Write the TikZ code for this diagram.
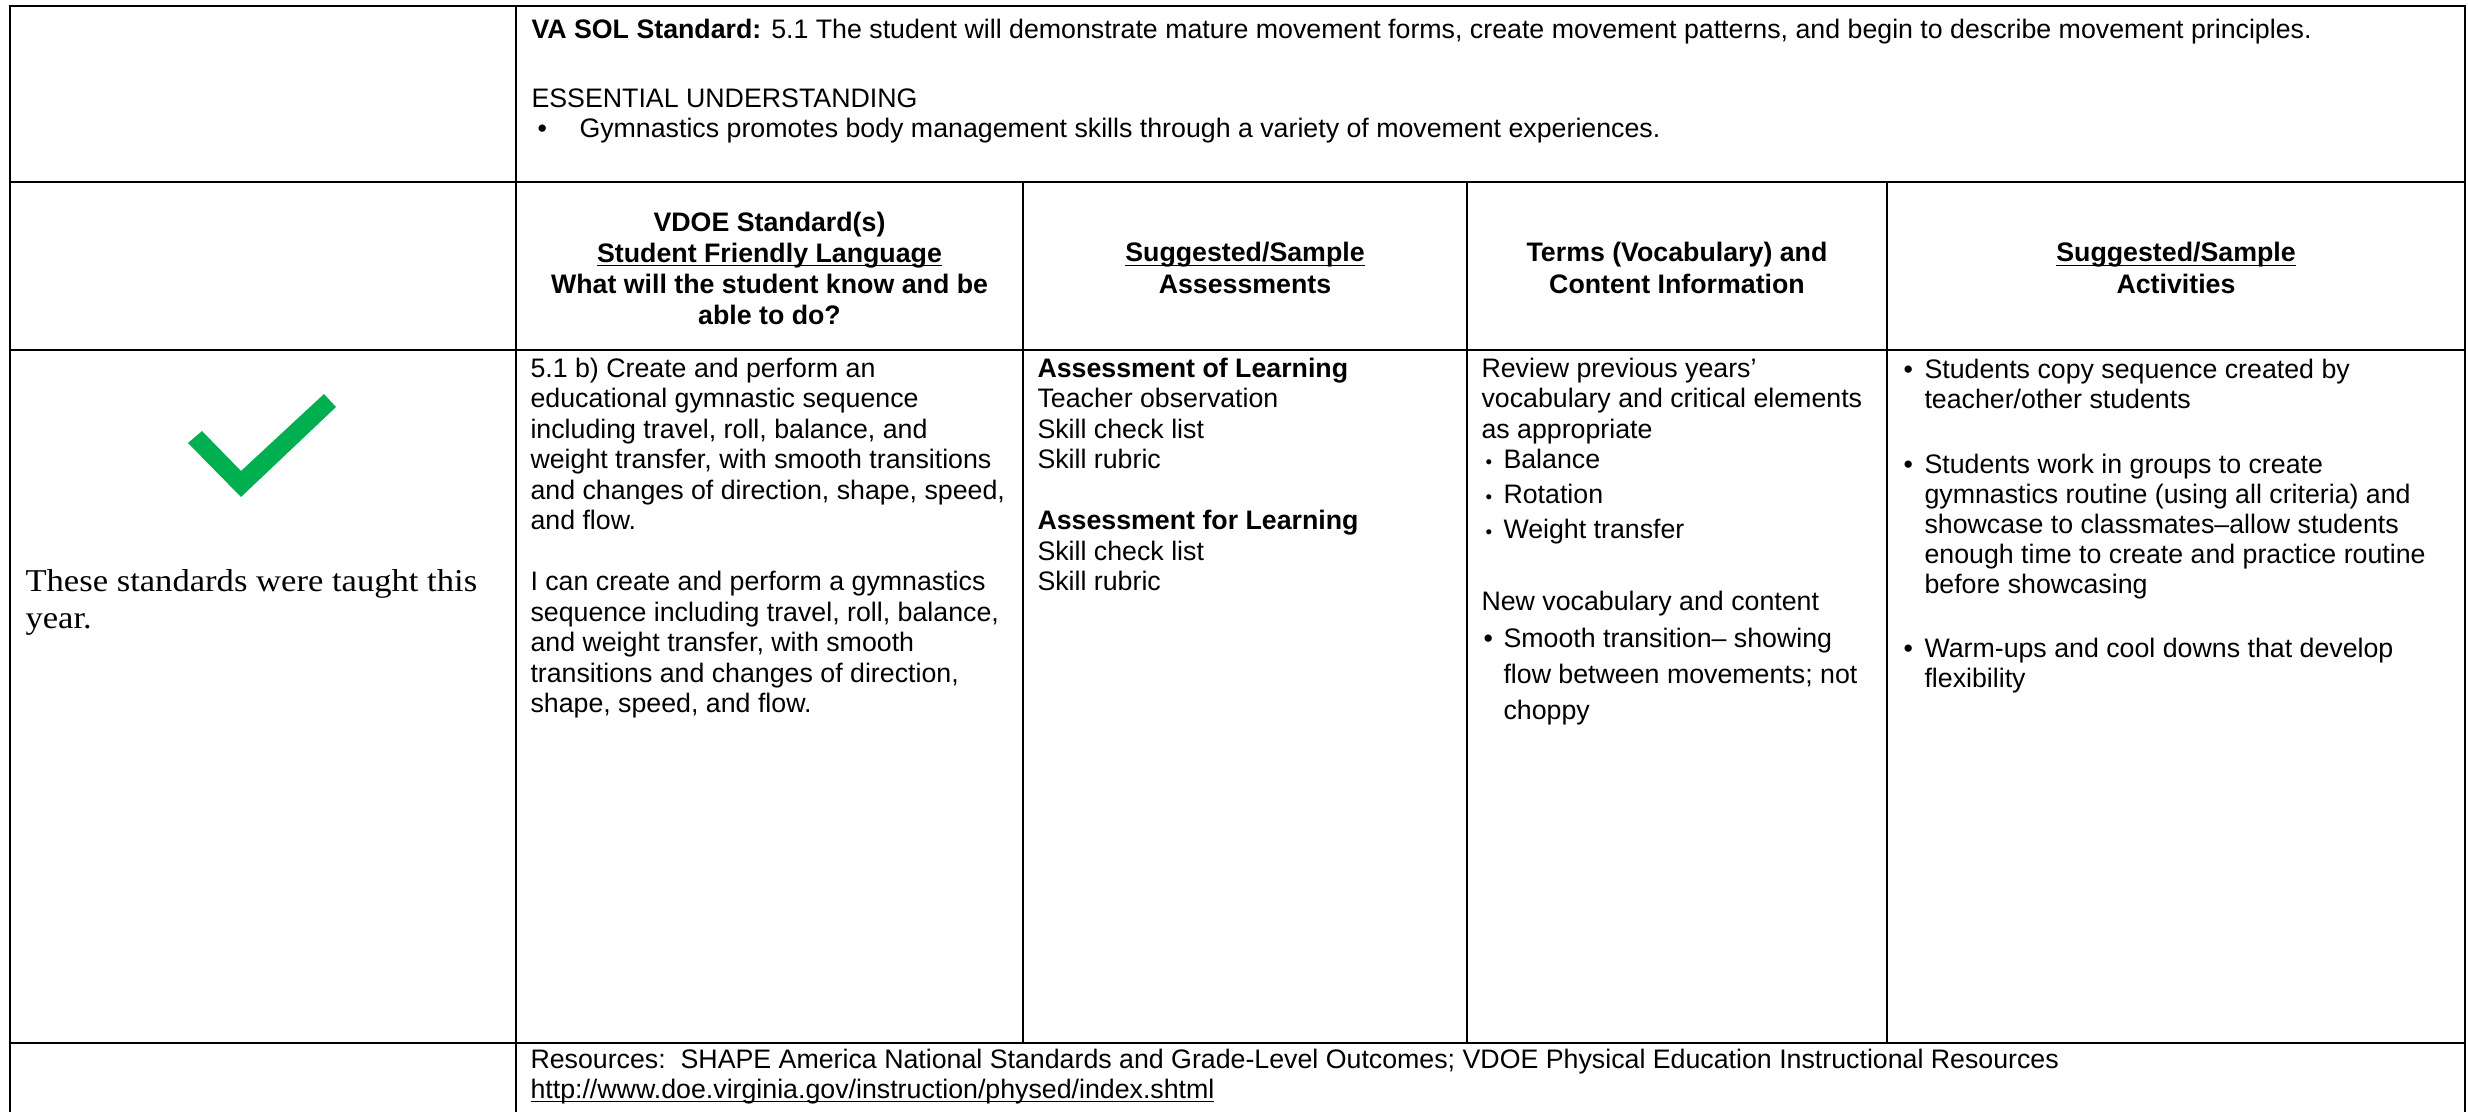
\documentclass[tikz,border=0pt]{standalone}
\usepackage{fontspec}
\setmainfont{Liberation Sans}
\newfontfamily\leftserif[FakeStretch=1.09]{Liberation Serif}
\definecolor{checkgreen}{RGB}{0,176,80}
\newcommand\lft[1]{\begin{tabular}[t]{@{}l@{}}#1\end{tabular}}
\newcommand\ctr[1]{\begin{tabular}[t]{@{}c@{}}#1\end{tabular}}
\newcommand\wul[1]{\underline{\smash{#1}}}
\begin{document}
\begin{tikzpicture}[x=0.4pt,y=-0.4pt,
    cell/.style={anchor=base west,inner sep=0pt,font=\fontsize{10.7pt}{12.2pt}\selectfont},
    head/.style={anchor=base,inner sep=0pt,font=\fontsize{10.7pt}{12.4pt}\selectfont\bfseries},
    list/.style={cell,font=\fontsize{10.7pt}{12pt}\selectfont},
    outer/.style={line width=0.8pt},
    inner/.style={line width=0.5pt}]
    \path[use as bounding box,fill=white] (0,0) rectangle (2468,1112);

    % grid
    \draw[outer] (10,1112)--(10,6)--(2465,6)--(2465,1112);
    \draw[outer] (10,182)--(2465,182);
    \draw[outer] (10,350)--(2465,350);
    \draw[outer] (10,1043)--(2465,1043);
    \draw[inner] (516,6)--(516,1112);
    \draw[inner] (1023,182)--(1023,1043);
    \draw[inner] (1467,182)--(1467,1043);
    \draw[inner] (1887,182)--(1887,1043);

    % row 1
    \node[cell] (SOL) at (531,39) {\textbf{VA SOL Standard:} 5.1 The student will demonstrate mature movement forms, create movement patterns, and begin to describe movement principles.};
    \node[cell] (EU) at (531,108) {ESSENTIAL UNDERSTANDING};
    \node[cell] (EUb) at (537,138) {•};
    \node[cell] (EUt) at (579,138) {Gymnastics promotes body management skills through a variety of movement experiences.};

    % row 2
    \node[head] (HA) at (769.5,231) {\ctr{VDOE Standard(s)\\ \wul{Student Friendly Language}\\ What will the student know and be\\ able to do?}};
    \node[head] (HB) at (1245,262) {\ctr{\wul{Suggested/Sample}\\ Assessments}};
    \node[head] (HC) at (1677,262) {\ctr{Terms (Vocabulary) and\\ Content Information}};
    \node[head] (HD) at (2176,262) {\ctr{\wul{Suggested/Sample}\\ Activities}};

    % row 3
    \fill[checkgreen] (188,443)--(202,431)--(241,471)--(324,394)--(336,407)--(241,497)--cycle;
    \node[anchor=base west,inner sep=0pt,font=\leftserif\fontsize{12.7pt}{14.8pt}\selectfont] (TAUGHT) at (25,591) {\lft{These standards were taught this\\ year.}};

    \node[cell] (CA) at (530,377) {\lft{5.1 b) Create and perform an\\ educational gymnastic sequence\\ including travel, roll, balance, and\\ weight transfer, with smooth transitions\\ and changes of direction, shape, speed,\\ and flow.}};
    \node[cell] (CB) at (530,590.5) {\lft{I can create and perform a gymnastics\\ sequence including travel, roll, balance,\\ and weight transfer, with smooth\\ transitions and changes of direction,\\ shape, speed, and flow.}};

    \node[cell] (AA) at (1037,377) {\lft{\textbf{Assessment of Learning}\\ Teacher observation\\ Skill check list\\ Skill rubric}};
    \node[cell] (AB) at (1037,529.5) {\lft{\textbf{Assessment for Learning}\\ Skill check list\\ Skill rubric}};

    \node[cell] (TA) at (1481,377) {\lft{Review previous years’\\ vocabulary and critical elements\\ as appropriate}};
    \node[cell,font=\fontsize{7.5pt}{7.5pt}\selectfont] (TBb) at (1485,468) {•};
    \node[cell] (TB) at (1503,468) {Balance};
    \node[cell,font=\fontsize{7.5pt}{7.5pt}\selectfont] (TCb) at (1485,503) {•};
    \node[cell] (TC) at (1503,503) {Rotation};
    \node[cell,font=\fontsize{7.5pt}{7.5pt}\selectfont] (TDb) at (1485,538) {•};
    \node[cell] (TD) at (1503,538) {Weight transfer};
    \node[cell] (TE) at (1481,610) {New vocabulary and content};
    \node[cell] (TFb) at (1483,647) {•};
    \node[cell,font=\fontsize{10.7pt}{14.4pt}\selectfont] (TF) at (1503,647) {\lft{Smooth transition– showing\\ flow between movements; not\\ choppy}};

    \node[list] (SAb) at (1903,378) {•};
    \node[list] (SA) at (1924,378) {\lft{Students copy sequence created by\\ teacher/other students}};
    \node[list] (SBb) at (1903,473) {•};
    \node[list] (SB) at (1924,473) {\lft{Students work in groups to create\\ gymnastics routine (using all criteria) and\\ showcase to classmates–allow students\\ enough time to create and practice routine\\ before showcasing}};
    \node[list] (SCb) at (1903,657) {•};
    \node[list] (SC) at (1924,657) {\lft{Warm-ups and cool downs that develop\\ flexibility}};

    % row 4
    \node[cell] (RES) at (530,1068) {Resources:\ \ SHAPE America National Standards and Grade-Level Outcomes; VDOE Physical Education Instructional Resources};
    \node[cell] (URL) at (530,1098) {\wul{http://www.doe.virginia.gov/instruction/physed/index.shtml}};
\end{tikzpicture}
\end{document}
